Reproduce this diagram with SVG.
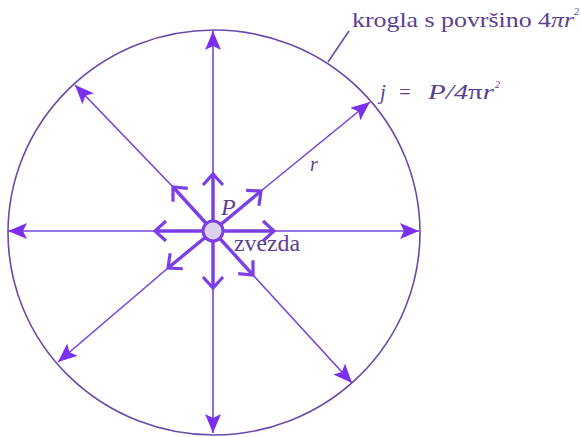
<svg xmlns="http://www.w3.org/2000/svg" width="581" height="437" viewBox="0 0 581 437">
<defs>
<style>
.thin{stroke:#7444dc;stroke-width:1.6;fill:none;marker-end:url(#big)}
.thick{stroke:#7a3fe6;stroke-width:3.4;fill:none;marker-end:url(#open)}
text{fill:#5a3f96}
.it{font-style:italic}
</style>
<marker id="big" markerUnits="userSpaceOnUse" markerWidth="22" markerHeight="18" refX="19" refY="8" orient="auto">
<path d="M0,0 L19,8 L0,16 L4,8 Z" fill="#7b2ff0"/>
</marker>
<marker id="open" markerUnits="userSpaceOnUse" markerWidth="16" markerHeight="24" refX="12" refY="10" orient="auto" overflow="visible">
<path d="M1,0 L12,10 L1,20" fill="none" stroke="#7a3fe6" stroke-width="3.2"/>
</marker>
</defs>
<rect width="581" height="437" fill="#ffffff"/>
<g id="sphere">
<ellipse cx="214" cy="232.5" rx="206" ry="202.5" fill="none" stroke="#6a4aa8" stroke-width="1.6"/>
<line x1="328" y1="62" x2="349" y2="31" stroke="#6a4aa8" stroke-width="1.6"/>
</g>
<g id="connectors">
<line class="thin" x1="213" y1="174" x2="213" y2="31"/>
<line class="thin" x1="213" y1="288" x2="213" y2="433"/>
<line class="thin" x1="274" y1="231" x2="419" y2="231"/>
<line class="thin" x1="155" y1="231" x2="8" y2="231"/>
<line class="thin" x1="261" y1="191" x2="370" y2="102"/>
<line class="thin" x1="173" y1="187" x2="75" y2="85"/>
<line class="thin" x1="168" y1="268" x2="58" y2="362"/>
<line class="thin" x1="253" y1="275" x2="352" y2="383"/>
<line class="thick" x1="213" y1="231" x2="213" y2="174"/>
<line class="thick" x1="213" y1="231" x2="213" y2="288"/>
<line class="thick" x1="213" y1="231" x2="274" y2="231"/>
<line class="thick" x1="213" y1="231" x2="155" y2="231"/>
<line class="thick" x1="213" y1="231" x2="261" y2="191"/>
<line class="thick" x1="213" y1="231" x2="173" y2="187"/>
<line class="thick" x1="213" y1="231" x2="168" y2="268"/>
<line class="thick" x1="213" y1="231" x2="253" y2="275"/>
</g>
<g id="star" font-family="'Liberation Serif', 'DejaVu Serif', serif">
<circle cx="213" cy="231" r="10" fill="#ddd3ec" stroke="#7a3fe6" stroke-width="3"/>
<text class="it" x="221" y="215" font-size="24">P</text>
<text x="234" y="251" font-size="24" textLength="66" lengthAdjust="spacingAndGlyphs">zvezda</text>
</g>
<g id="labels" font-family="'Liberation Serif', 'DejaVu Serif', serif">
<text x="352" y="27" font-size="22" textLength="222" lengthAdjust="spacingAndGlyphs">krogla s površino 4<tspan class="it">πr</tspan></text>
<text class="it" x="574" y="15" font-size="10">2</text>
<text class="it" x="380" y="99" font-size="21">j</text>
<text x="399" y="99" font-size="21">=</text>
<text class="it" x="428" y="99" font-size="21" textLength="66" lengthAdjust="spacingAndGlyphs">P/4<tspan font-style="normal">π</tspan>r</text>
<text class="it" x="495" y="88" font-size="10">2</text>
<text class="it" x="310" y="171" font-size="20">r</text>
</g>
</svg>
